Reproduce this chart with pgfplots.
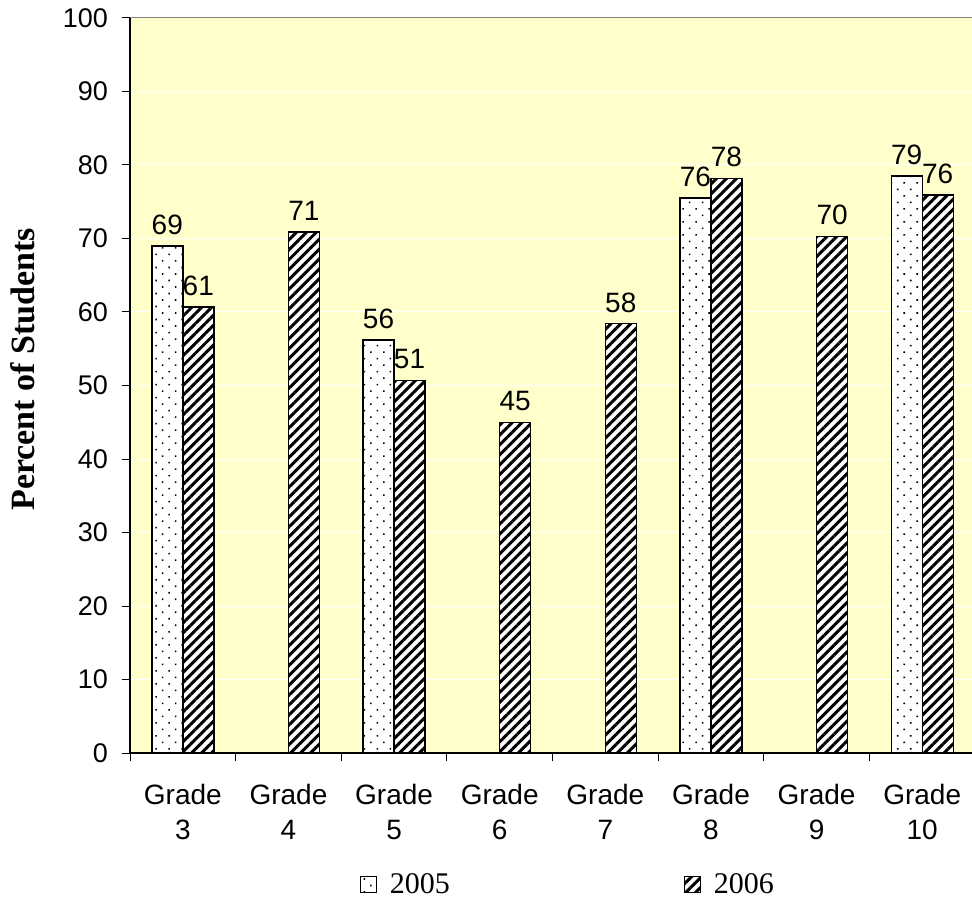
\documentclass[border=0pt]{standalone}
\usepackage{fontspec}
\setmainfont{Liberation Serif}
\setsansfont{Liberation Sans}
\usepackage{pgfplots}
\pgfplotsset{compat=1.18}
\usetikzlibrary{patterns.meta}
\definecolor{bgyellow}{RGB}{255,255,204}

\begin{document}
\begin{tikzpicture}
\useasboundingbox (0,0) rectangle (486pt,452.5pt);
\begin{axis}[
  at={(65pt,76pt)}, anchor=south west,
  scale only axis, width=422.5pt, height=367.5pt,
  ybar=0pt, bar width=15.5pt,
  xmin=-0.5, xmax=7.5, ymin=0, ymax=100,
  ytick={0,10,...,100},
  xtick={0,...,7},
  xticklabels={{Grade\\3},{Grade\\4},{Grade\\5},{Grade\\6},{Grade\\7},{Grade\\8},{Grade\\9},{Grade\\10}},
  minor xtick={-0.5,0.5,...,7.5},
  major x tick style={draw=none},
  minor x tick style={black, line width=0.5pt},
  y tick style={black, line width=0.5pt},
  major tick length=4pt, minor tick length=4pt,
  tick align=outside,
  axis x line*=bottom, axis y line*=left,
  axis line style={-, black, line width=0.6pt},
  axis background/.style={fill=bgyellow},
  ymajorgrids, major grid style={white, line width=0.5pt},
  /pgf/number format/assume math mode=true,
  yticklabel style={font=\sffamily\fontsize{13.5}{16}\selectfont, xshift=-3.5pt},
  xticklabel style={align=center, font=\sffamily\fontsize{14}{17.5}\selectfont, yshift=-8pt},
  ylabel={Percent of Students},
  ylabel style={font=\rmfamily\bfseries\fontsize{17}{20}\selectfont, at={(rel axis cs:-0.113,0.32)}, anchor=base west},
  point meta=explicit symbolic,
  nodes near coords,
  nodes near coords style={font=\sffamily\fontsize{14}{16}\selectfont, black, yshift=2pt},
  legend columns=2,
  legend style={draw=none, fill=none, at={(rel axis cs:0.5195,-0.1796)}, anchor=center,
    font=\rmfamily\fontsize{15}{17}\selectfont,
    /tikz/every odd column/.append style={column sep=4.5pt},
    /tikz/every even column/.append style={column sep=115pt}},
  legend image code/.code={\draw[#1,draw=black,line width=0.5pt] (0pt,-3.9pt) rectangle (8pt,4.1pt);},
]
\addplot[draw=black, line width=0.7pt, fill=white,
  postaction={pattern={Dots[distance=4.6pt, angle=45, radius=0.55pt]}}]
  coordinates {(0,69)[69] (2,56.2)[56] (5,75.5)[76] (7,78.5)[79]};
\addplot[draw=black, line width=0.7pt, fill=white,
  postaction={pattern={Lines[angle=45, distance=3.5pt, line width=1.5pt]}}]
  coordinates {(0,60.7)[61] (1,70.9)[71] (2,50.7)[51] (3,45)[45] (4,58.4)[58] (5,78.2)[78] (6,70.3)[70] (7,75.9)[76]};
\legend{2005,2006}
\draw[gray, line width=0.5pt] (rel axis cs:0,1) -- (rel axis cs:1,1);
\end{axis}
\end{tikzpicture}
\end{document}
